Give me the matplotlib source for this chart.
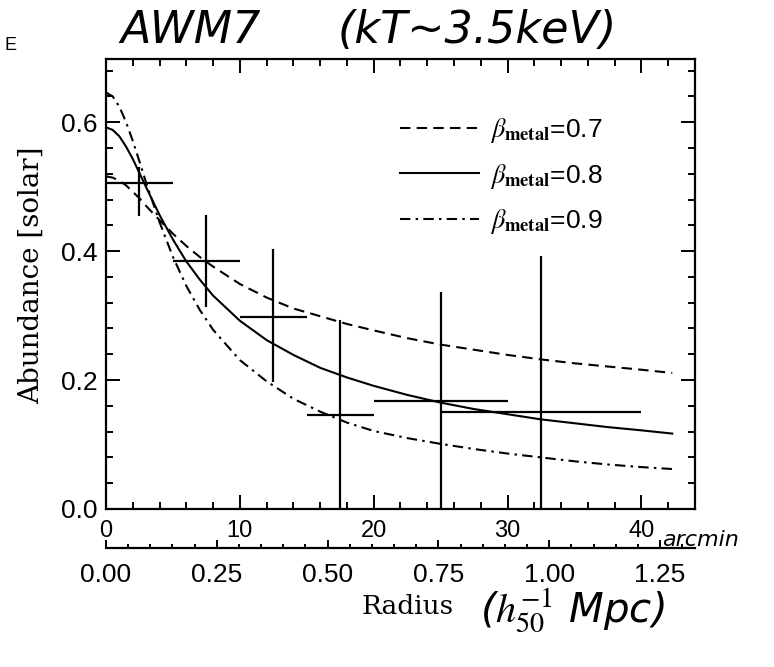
import matplotlib
matplotlib.use("Agg")
import matplotlib.pyplot as plt
from matplotlib.ticker import MultipleLocator, FixedLocator, FormatStrFormatter

plt.rcParams['font.family'] = ['Liberation Sans', 'DejaVu Sans']
plt.rcParams['mathtext.fontset'] = 'stix'

# Model abundance profiles (radius in arcmin, abundance in solar units)
model_r = [0, 0.5, 1, 1.5, 2, 2.5, 3, 4, 5, 6, 7, 8, 10, 12, 14, 16, 18, 20,
           22.5, 25, 27.5, 30, 32.5, 35, 37.5, 40, 42.3]
beta07 = [0.516, 0.514, 0.509, 0.502, 0.492, 0.482, 0.470, 0.448, 0.427, 0.408,
          0.391, 0.376, 0.349, 0.328, 0.311, 0.299, 0.287, 0.277, 0.265, 0.255,
          0.247, 0.239, 0.232, 0.226, 0.221, 0.216, 0.211]
beta08 = [0.592, 0.588, 0.578, 0.562, 0.543, 0.521, 0.499, 0.456, 0.418, 0.384,
          0.356, 0.331, 0.292, 0.262, 0.239, 0.219, 0.204, 0.191, 0.177, 0.165,
          0.155, 0.147, 0.139, 0.133, 0.127, 0.122, 0.117]
beta09 = [0.646, 0.640, 0.624, 0.600, 0.571, 0.539, 0.506, 0.445, 0.391, 0.346,
          0.309, 0.278, 0.231, 0.198, 0.171, 0.151, 0.134, 0.121, 0.110, 0.101,
          0.093, 0.086, 0.080, 0.074, 0.069, 0.065, 0.062]
legend_labels = [r'$\beta_{\mathbf{metal}}$=0.7',
                 r'$\beta_{\mathbf{metal}}$=0.8',
                 r'$\beta_{\mathbf{metal}}$=0.9']

# Measured abundances in radial bins
bin_center = [2.5, 7.5, 12.5, 17.5, 25.0, 32.5]
bin_halfwidth = [2.5, 2.5, 2.5, 2.5, 5.0, 7.5]
abund = [0.505, 0.384, 0.298, 0.146, 0.167, 0.150]
abund_low = [0.455, 0.314, 0.197, 0.0, 0.0, 0.0]
abund_high = [0.530, 0.456, 0.403, 0.293, 0.336, 0.392]

# Tick values for the physical-radius axis
mpc_ticks = [0.00, 0.25, 0.50, 0.75, 1.00, 1.25]
mpc_per_arcmin = 0.0302

W, H = 774, 667
fig = plt.figure(figsize=(W / 100, H / 100), dpi=100)
ax = fig.add_axes([106 / W, 1 - 509 / H, 589 / W, 450 / H])

ax.plot(model_r, beta07, color='black', lw=1.5, dashes=(5, 3), label=legend_labels[0])
ax.plot(model_r, beta08, color='black', lw=1.5, label=legend_labels[1])
ax.plot(model_r, beta09, color='black', lw=1.5, dashes=(5, 2.5, 1.2, 2.5), label=legend_labels[2])

yerr = [[a - lo for a, lo in zip(abund, abund_low)],
        [hi - a for a, hi in zip(abund, abund_high)]]
ax.errorbar(bin_center, abund, xerr=bin_halfwidth, yerr=yerr, fmt='none',
            ecolor='black', elinewidth=1.6, capsize=0)

ax.set_xlim(0, 44)
ax.set_ylim(0, 0.698)
ax.xaxis.set_major_locator(MultipleLocator(10))
ax.xaxis.set_minor_locator(MultipleLocator(2))
ax.yaxis.set_major_locator(MultipleLocator(0.2))
ax.yaxis.set_minor_locator(MultipleLocator(0.04))
ax.yaxis.set_major_formatter(FormatStrFormatter('%.1f'))
ax.tick_params(which='both', direction='in', top=True, right=True, width=1.4)
ax.tick_params(which='major', length=10)
ax.tick_params(which='minor', length=5)
ax.tick_params(axis='y', pad=6, labelsize=19)
ax.tick_params(axis='x', pad=8, labelsize=17)
for s in ax.spines.values():
    s.set_linewidth(1.6)

ax.set_ylabel('Abundance [solar]', family='DejaVu Serif', fontsize=20)
ax.yaxis.set_label_coords(-0.104, 0.52)

leg = ax.legend(loc='upper left', bbox_to_anchor=(0.477, 0.902), frameon=False,
                fontsize=19, handlelength=3.0, handletextpad=0.4,
                labelspacing=0.62, borderpad=0)

# Physical radius axis below the arcmin axis
sec = ax.secondary_xaxis(-0.087, functions=(lambda x: x * mpc_per_arcmin,
                                             lambda m: m / mpc_per_arcmin))
sec.xaxis.set_major_locator(FixedLocator(mpc_ticks))
sec.xaxis.set_minor_locator(MultipleLocator(0.05))
sec.xaxis.set_major_formatter(FormatStrFormatter('%.2f'))
sec.tick_params(which='both', direction='in', width=1.4, labelsize=19, pad=11)
sec.tick_params(which='major', length=6)
sec.tick_params(which='minor', length=3)
sec.spines['bottom'].set_linewidth(1.6)

fig.text(408 / W, 1 - 607 / H, 'Radius', family='DejaVu Serif', fontsize=19,
         ha='center', va='center')

# Hand-written annotations
hand = dict(family='DejaVu Sans', style='italic', color='black')
fig.text(120 / W, 1 - 43 / H, 'AWM7', fontsize=32, va='baseline', **hand)
fig.text(338 / W, 1 - 43 / H, '(kT~3.5keV)', fontsize=32, va='baseline', **hand)
fig.text(662 / W, 1 - 546 / H, 'arcmin', fontsize=16, va='baseline', **hand)
fig.text(480 / W, 1 - 622 / H, r'($h_{50}^{-1}$ Mpc)', fontsize=29, va='baseline', **hand)
fig.text(4 / W, 1 - 50 / H, 'E', fontsize=13, va='baseline', color='black')

fig.savefig('out.png', dpi=100)
